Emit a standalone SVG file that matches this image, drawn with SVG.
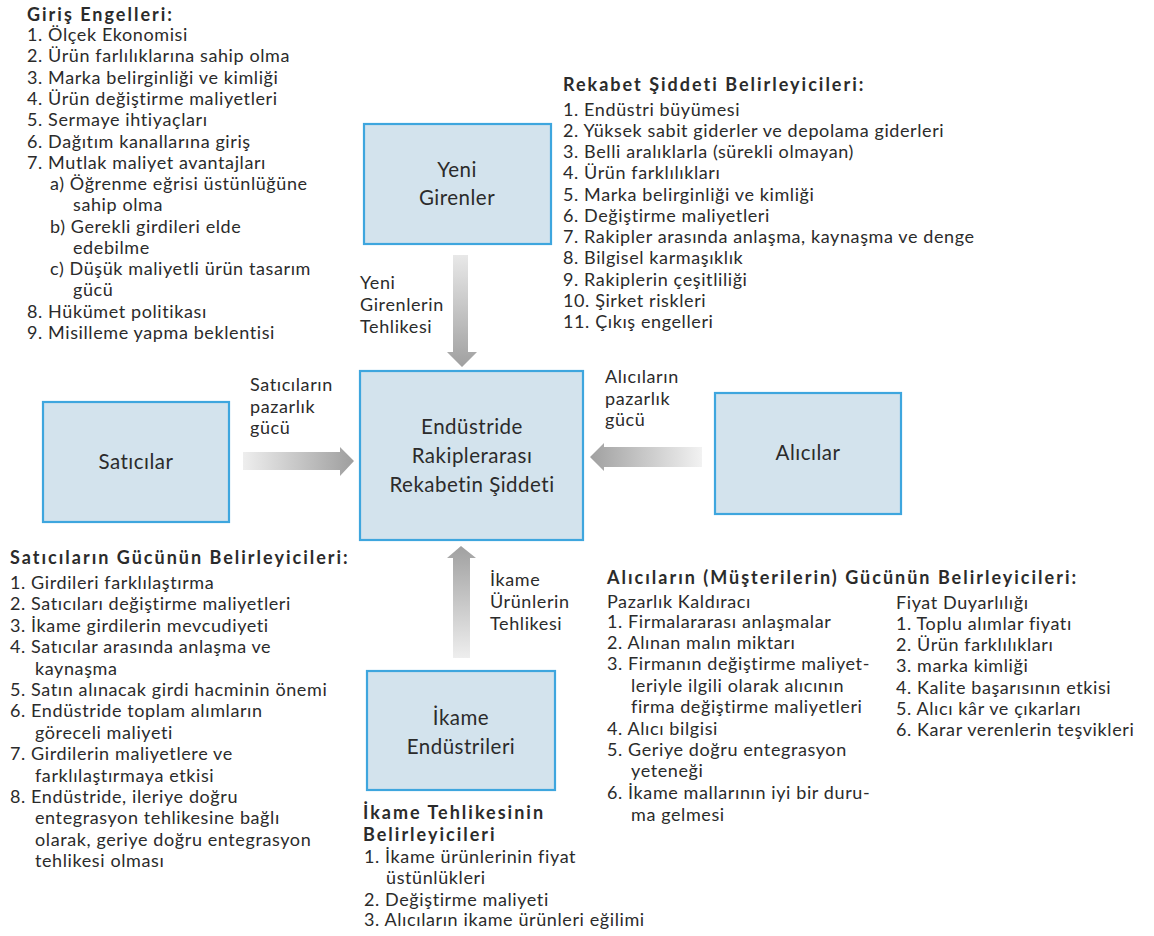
<svg xmlns="http://www.w3.org/2000/svg" width="1154" height="936" viewBox="0 0 1154 936">
<style>
.t{font-family:Lato,"Open Sans","Liberation Sans",sans-serif;font-size:18px;letter-spacing:0.6px;fill:#2b2b2b}
.h{font-family:Lato,"Open Sans","Liberation Sans",sans-serif;font-size:18px;letter-spacing:2px;font-weight:bold;fill:#2b2b2b}
.bt{font-family:Lato,"Open Sans","Liberation Sans",sans-serif;font-size:20.5px;letter-spacing:0.5px;fill:#2b2b2b;text-anchor:middle}
.box{fill:#d3e3ed;stroke:#3ea6de;stroke-width:2.2}
.arr{stroke:none}
</style>
<defs>
<linearGradient id="gDown" x1="0" y1="0" x2="0" y2="1"><stop offset="0" stop-color="#e8e8e8"/><stop offset="1" stop-color="#a0a0a0"/></linearGradient>
<linearGradient id="gUp" x1="0" y1="1" x2="0" y2="0"><stop offset="0" stop-color="#eeeeee"/><stop offset="1" stop-color="#a0a0a0"/></linearGradient>
<linearGradient id="gRight" x1="0" y1="0" x2="1" y2="0"><stop offset="0" stop-color="#eeeeee"/><stop offset="1" stop-color="#9e9e9e"/></linearGradient>
<linearGradient id="gLeft" x1="1" y1="0" x2="0" y2="0"><stop offset="0" stop-color="#f2f2f2"/><stop offset="1" stop-color="#a0a0a0"/></linearGradient>
</defs>
<rect width="1154" height="936" fill="#ffffff"/>

<g id="connectors">
  <polygon id="arrow-yeni" class="arr" fill="url(#gDown)" points="453,255 468,255 468,352 477,352 462,367 447,352 453,352"/>
  <polygon id="arrow-satici" class="arr" fill="url(#gRight)" points="243,452 340,452 340,447 354,461 340,476 340,470 243,470"/>
  <polygon id="arrow-alici" class="arr" fill="url(#gLeft)" points="702,447 604,447 604,443 590,457 604,471 604,467 702,467"/>
  <polygon id="arrow-ikame" class="arr" fill="url(#gUp)" points="453,658 470,658 470,558 476,558 461,546 447,558 453,558"/>
  <g id="connector-labels">
    <text class="t" x="360" y="289">Yeni</text>
    <text class="t" x="360" y="311">Girenlerin</text>
    <text class="t" x="360" y="333">Tehlikesi</text>
    <text class="t" x="250" y="391">Satıcıların</text>
    <text class="t" x="250" y="413">pazarlık</text>
    <text class="t" x="250" y="434">gücü</text>
    <text class="t" x="605" y="383">Alıcıların</text>
    <text class="t" x="605" y="405">pazarlık</text>
    <text class="t" x="605" y="426">gücü</text>
    <text class="t" x="490" y="586">İkame</text>
    <text class="t" x="490" y="608">Ürünlerin</text>
    <text class="t" x="490" y="630">Tehlikesi</text>
  </g>
</g>

<g id="node-yeni-girenler">
  <rect class="box" x="364" y="124" width="187" height="120"/>
  <text class="bt" x="457" y="177">Yeni</text>
  <text class="bt" x="457" y="205">Girenler</text>
</g>
<g id="node-merkez">
  <rect class="box" x="360" y="371" width="223" height="169"/>
  <text class="bt" x="472" y="434">Endüstride</text>
  <text class="bt" x="472" y="463">Rakiplerarası</text>
  <text class="bt" x="472" y="492">Rekabetin Şiddeti</text>
</g>
<g id="node-saticilar">
  <rect class="box" x="43" y="402" width="186" height="120"/>
  <text class="bt" x="136" y="469">Satıcılar</text>
</g>
<g id="node-alicilar">
  <rect class="box" x="715" y="393" width="186" height="121"/>
  <text class="bt" x="808" y="460">Alıcılar</text>
</g>
<g id="node-ikame">
  <rect class="box" x="367" y="671" width="188" height="119"/>
  <text class="bt" x="461" y="725">İkame</text>
  <text class="bt" x="461" y="754">Endüstrileri</text>
</g>

<g id="giris-engelleri">
  <text class="h" x="27" y="21">Giriş Engelleri:</text>
  <text class="t" x="27" y="41">1. Ölçek Ekonomisi</text>
  <text class="t" x="27" y="62">2. Ürün farlılıklarına sahip olma</text>
  <text class="t" x="27" y="84">3. Marka belirginliği ve kimliği</text>
  <text class="t" x="27" y="105">4. Ürün değiştirme maliyetleri</text>
  <text class="t" x="27" y="126">5. Sermaye ihtiyaçları</text>
  <text class="t" x="27" y="148">6. Dağıtım kanallarına giriş</text>
  <text class="t" x="27" y="169">7. Mutlak maliyet avantajları</text>
  <text class="t" x="50" y="190">a) Öğrenme eğrisi üstünlüğüne</text>
  <text class="t" x="73" y="211">sahip olma</text>
  <text class="t" x="50" y="233">b) Gerekli girdileri elde</text>
  <text class="t" x="73" y="254">edebilme</text>
  <text class="t" x="50" y="275">c) Düşük maliyetli ürün tasarım</text>
  <text class="t" x="73" y="296">gücü</text>
  <text class="t" x="27" y="318">8. Hükümet politikası</text>
  <text class="t" x="27" y="339">9. Misilleme yapma beklentisi</text>
</g>

<g id="rekabet-siddeti">
  <text class="h" x="563" y="91">Rekabet Şiddeti Belirleyicileri:</text>
  <text class="t" x="563" y="116">1. Endüstri büyümesi</text>
  <text class="t" x="563" y="137">2. Yüksek sabit giderler ve depolama giderleri</text>
  <text class="t" x="563" y="158">3. Belli aralıklarla (sürekli olmayan)</text>
  <text class="t" x="563" y="179">4. Ürün farklılıkları</text>
  <text class="t" x="563" y="201">5. Marka belirginliği ve kimliği</text>
  <text class="t" x="563" y="222">6. Değiştirme maliyetleri</text>
  <text class="t" x="563" y="243">7. Rakipler arasında anlaşma, kaynaşma ve denge</text>
  <text class="t" x="563" y="264">8. Bilgisel karmaşıklık</text>
  <text class="t" x="563" y="286">9. Rakiplerin çeşitliliği</text>
  <text class="t" x="563" y="307">10. Şirket riskleri</text>
  <text class="t" x="563" y="328">11. Çıkış engelleri</text>
</g>

<g id="saticilarin-gucu">
  <text class="h" x="10" y="564">Satıcıların Gücünün Belirleyicileri:</text>
  <text class="t" x="10" y="589">1. Girdileri farklılaştırma</text>
  <text class="t" x="10" y="610">2. Satıcıları değiştirme maliyetleri</text>
  <text class="t" x="10" y="632">3. İkame girdilerin mevcudiyeti</text>
  <text class="t" x="10" y="653">4. Satıcılar arasında anlaşma ve</text>
  <text class="t" x="35" y="675">kaynaşma</text>
  <text class="t" x="10" y="696">5. Satın alınacak girdi hacminin önemi</text>
  <text class="t" x="10" y="717">6. Endüstride toplam alımların</text>
  <text class="t" x="35" y="739">göreceli maliyeti</text>
  <text class="t" x="10" y="760">7. Girdilerin maliyetlere ve</text>
  <text class="t" x="35" y="782">farklılaştırmaya etkisi</text>
  <text class="t" x="10" y="803">8. Endüstride, ileriye doğru</text>
  <text class="t" x="35" y="824">entegrasyon tehlikesine bağlı</text>
  <text class="t" x="35" y="846">olarak, geriye doğru entegrasyon</text>
  <text class="t" x="35" y="867">tehlikesi olması</text>
</g>

<g id="ikame-tehlikesi">
  <text class="h" x="363" y="819">İkame Tehlikesinin</text>
  <text class="h" x="363" y="841">Belirleyicileri</text>
  <text class="t" x="364" y="863">1. İkame ürünlerinin fiyat</text>
  <text class="t" x="386" y="884">üstünlükleri</text>
  <text class="t" x="364" y="906">2. Değiştirme maliyeti</text>
  <text class="t" x="364" y="926">3. Alıcıların ikame ürünleri eğilimi</text>
</g>

<g id="alicilarin-gucu">
  <text class="h" x="607" y="584">Alıcıların (Müşterilerin) Gücünün Belirleyicileri:</text>
  <text class="t" x="607" y="608">Pazarlık Kaldıracı</text>
  <text class="t" x="607" y="628">1. Firmalararası anlaşmalar</text>
  <text class="t" x="607" y="649">2. Alınan malın miktarı</text>
  <text class="t" x="607" y="670">3. Firmanın değiştirme maliyet-</text>
  <text class="t" x="631" y="692">leriyle ilgili olarak alıcının</text>
  <text class="t" x="631" y="713">firma değiştirme maliyetleri</text>
  <text class="t" x="607" y="735">4. Alıcı bilgisi</text>
  <text class="t" x="607" y="756">5. Geriye doğru entegrasyon</text>
  <text class="t" x="631" y="777">yeteneği</text>
  <text class="t" x="607" y="799">6. İkame mallarının iyi bir duru-</text>
  <text class="t" x="631" y="821">ma gelmesi</text>
  <text class="t" x="896" y="609">Fiyat Duyarlılığı</text>
  <text class="t" x="896" y="630">1. Toplu alımlar fiyatı</text>
  <text class="t" x="896" y="651">2. Ürün farklılıkları</text>
  <text class="t" x="896" y="672">3. marka kimliği</text>
  <text class="t" x="896" y="694">4. Kalite başarısının etkisi</text>
  <text class="t" x="896" y="715">5. Alıcı kâr ve çıkarları</text>
  <text class="t" x="896" y="736">6. Karar verenlerin teşvikleri</text>
</g>
</svg>
